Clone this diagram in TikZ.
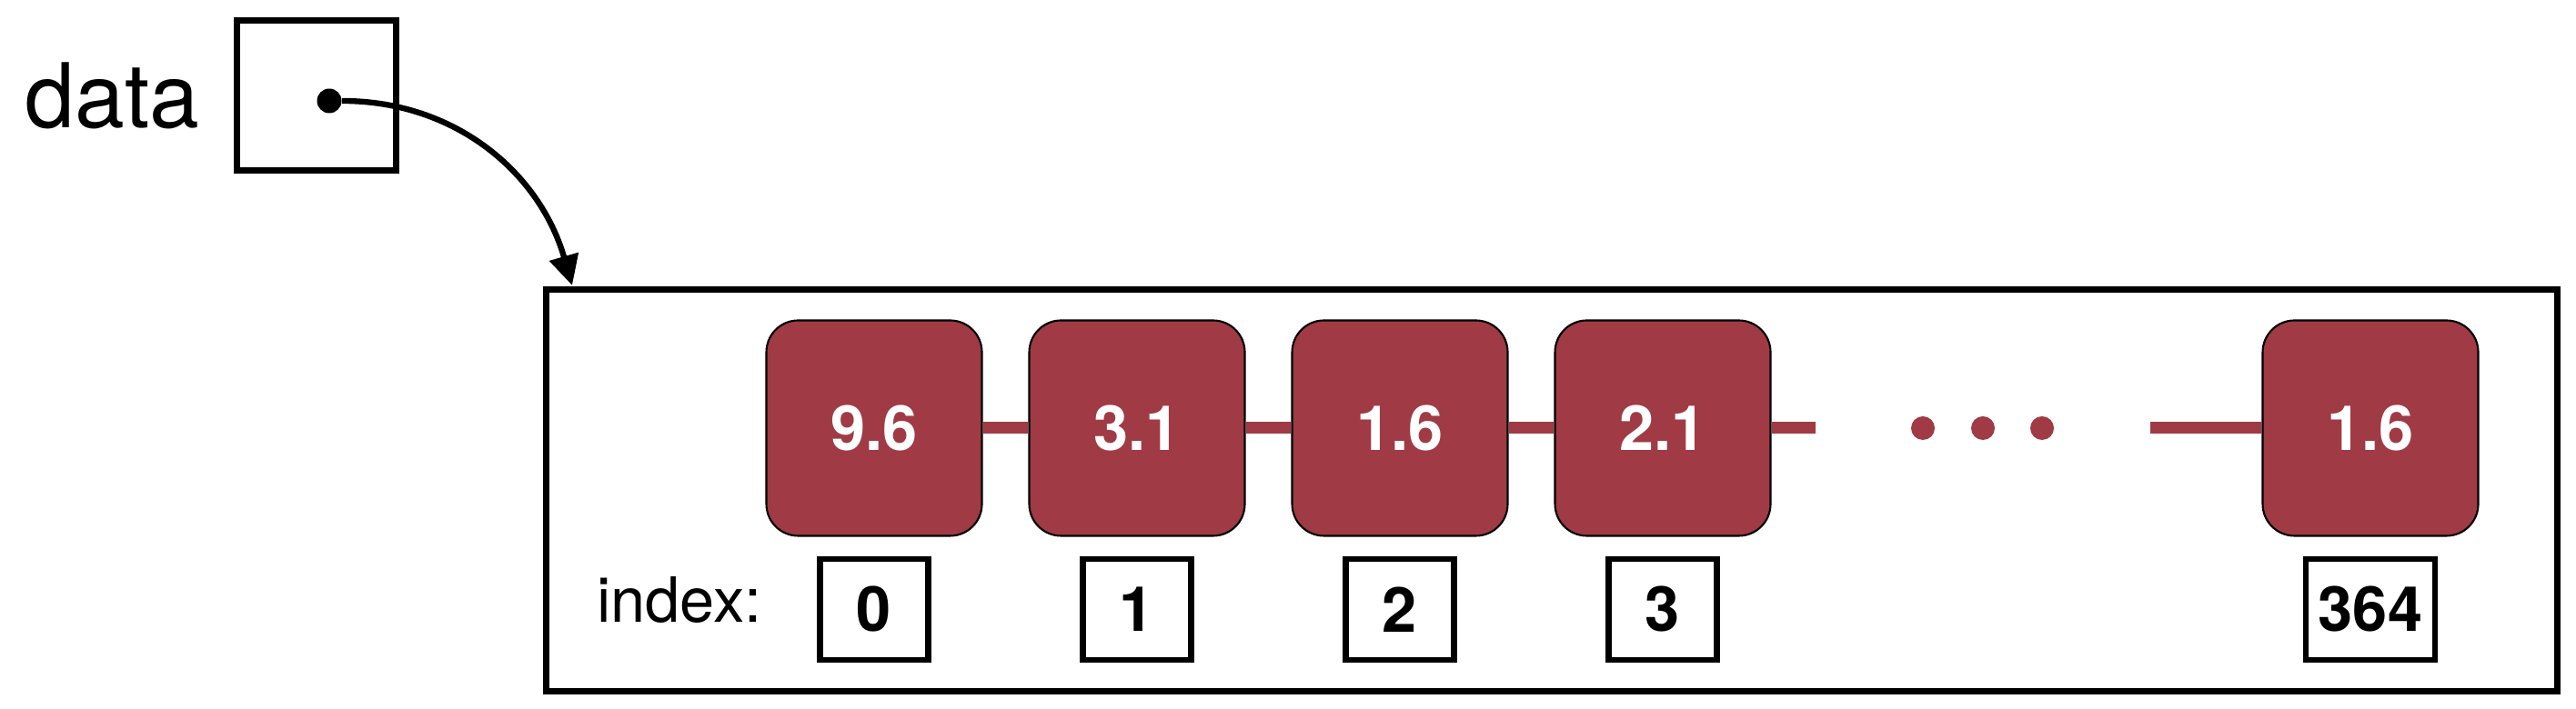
\documentclass[tikz,border=0pt]{standalone}
\usepackage{fontspec}
\setmainfont{TeX Gyre Heros}
\usepackage{xcolor}
\usetikzlibrary{arrows.meta,positioning}
\definecolor{cellred}{HTML}{A03A44}

\begin{document}
\begin{tikzpicture}[x=1cm,y=1cm,
  every node/.style={font=\fontsize{19.5}{23}\selectfont},
  ptrbox/.style={draw,line width=1.9pt,minimum width=1.75cm,minimum height=1.65cm},
  cell/.style={draw,line width=0.6pt,fill=cellred,rounded corners=0.35cm,
               minimum size=2.37cm,text=white,
               font=\fontsize{19.5}{23}\selectfont\bfseries},
  idx/.style={draw,line width=1.8pt,minimum width=1.19cm,minimum height=1.11cm,
              inner sep=0.14cm,font=\fontsize{19.5}{23}\selectfont\bfseries},
  link/.style={cellred,line width=3.7pt},
  pointer/.style={-{Triangle[length=0.33cm,width=0.32cm]},line width=1.8pt}]
\useasboundingbox (0,0) rectangle (28.32,7.80);
% the array and the variable that refers to it
\node[draw,line width=1.8pt,minimum width=22.11cm,minimum height=4.42cm] (arr) at (17.06,2.405) {};
\node[ptrbox] (data) at (3.48,6.75) {};
\node[left=0.37cm of data,inner sep=0,font=\fontsize{28}{32}\selectfont] (datalbl) {data};
\node[circle,fill,inner sep=0,minimum size=0.27cm] (dot) at (3.62,6.69) {};
\coordinate (tip) at (6.29,4.66);
\draw[pointer] (dot) to[out=0,in=106] (tip);
% elements
\node[cell] (v0) at (9.61,3.09) {9.6};
\node[cell] (v1) at (12.50,3.09) {3.1};
\node[cell] (v2) at (15.39,3.09) {1.6};
\node[cell] (v3) at (18.28,3.09) {2.1};
\node[cell] (v364) at (26.06,3.09) {1.6};
\draw[link] (v0) -- (v1);
\draw[link] (v1) -- (v2);
\draw[link] (v2) -- (v3);
\coordinate (gapl) at (19.96,3.09);
\coordinate (gapr) at (23.64,3.09);
\draw[link] (v3) -- (gapl);
\draw[link] (gapr) -- (v364);
\foreach \x in {21.14,21.80,22.45}
  \fill[cellred] (\x,3.09) circle (0.13);
% indices
\node[idx] (i0) at (9.61,1.095) {0};
\node[idx] (i1) at (12.50,1.095) {1};
\node[idx] (i2) at (15.39,1.095) {2};
\node[idx] (i3) at (18.28,1.095) {3};
\node[idx] (i364) at (26.06,1.095) {364};
\node[left=0.6cm of i0,inner sep=0,yshift=0.1cm] (idxlbl) {index:};
\end{tikzpicture}
\end{document}
